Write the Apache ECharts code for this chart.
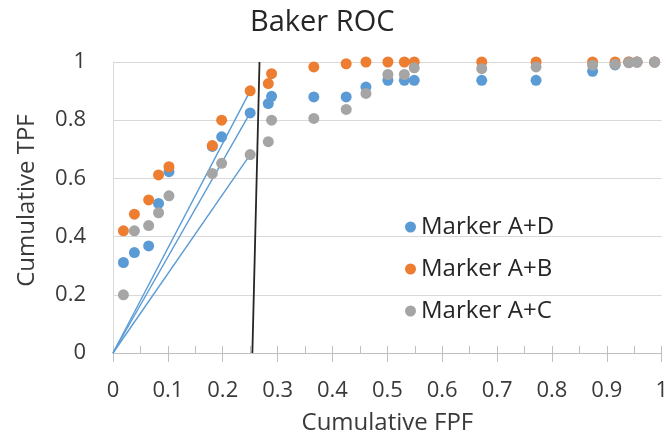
<!DOCTYPE html>
<html>
<head>
<meta charset="utf-8">
<script src="https://cdn.jsdelivr.net/npm/echarts@6/dist/echarts.min.js"></script>
<style>
  html, body { margin: 0; padding: 0; background: #fff; }
  #chart { width: 671px; height: 441px; }
</style>
</head>
<body>
<div id="chart"></div>
<script>
// Cumulative false-positive fraction shared by the three marker panels
const fpf = [0.019, 0.039, 0.065, 0.083, 0.102, 0.181, 0.198, 0.25, 0.283, 0.289,
             0.366, 0.425, 0.461, 0.501, 0.531, 0.549, 0.672, 0.771, 0.874, 0.915,
             0.940, 0.955, 0.987];

// Cumulative true-positive fraction per marker combination
const tpfAD = [0.311, 0.345, 0.368, 0.514, 0.623, 0.71, 0.743, 0.825, 0.857, 0.882,
               0.880, 0.880, 0.914, 0.937, 0.937, 0.937, 0.937, 0.937, 0.968, 0.99,
               1.0, 1.0, 1.0];
const tpfAB = [0.420, 0.477, 0.526, 0.612, 0.640, 0.713, 0.800, 0.901, 0.926, 0.960,
               0.983, 0.994, 1.0, 1.0, 1.0, 1.0, 1.0, 1.0, 1.0, 1.0,
               1.0, 1.0, 1.0];
const tpfAC = [0.200, 0.420, 0.438, 0.482, 0.540, 0.617, 0.652, 0.682, 0.726, 0.800,
               0.806, 0.837, 0.892, 0.957, 0.957, 0.980, 0.977, 0.983, 0.989, 0.992,
               0.997, 1.0, 1.0];

const seriesNames = ['Marker A+D', 'Marker A+B', 'Marker A+C'];
const seriesColors = ['#5B9BD5', '#ED7D31', '#A5A5A5'];

// Index of the operating point joined to the origin by a reference line
const refIndex = 7;

// Cut-off line (FPF, TPF) endpoints
const cutoffLine = [[0.254, 0], [0.267, 1]];

const xTicks = [0, 0.1, 0.2, 0.3, 0.4, 0.5, 0.6, 0.7, 0.8, 0.9, 1];
const yTicks = [0, 0.2, 0.4, 0.6, 0.8, 1];

const FONT = 'Open Sans';
const TXT = '#3a3a3a';

const tpfSets = [tpfAD, tpfAB, tpfAC];
const pairs = arr => fpf.map((x, i) => [x, arr[i]]);

const scatterSeries = tpfSets.map((arr, k) => ({
  name: seriesNames[k],
  type: 'scatter',
  data: pairs(arr),
  symbol: 'circle',
  symbolSize: 11,
  itemStyle: { color: seriesColors[k], opacity: 1 },
  z: 5 + k,
  silent: true
}));

// Lines from the origin to each series' reference point (top to bottom: A+B, A+D, A+C)
const refLines = [tpfAB, tpfAD, tpfAC].map(arr => ({
  type: 'line',
  data: [[0, 0], [fpf[refIndex], arr[refIndex]]],
  showSymbol: false,
  symbol: 'none',
  lineStyle: { color: '#5B9BD5', width: 1.4 },
  z: 3,
  silent: true
}));

const cutoffSeries = {
  type: 'line',
  data: cutoffLine,
  showSymbol: false,
  symbol: 'none',
  lineStyle: { color: '#262626', width: 1.8 },
  z: 4,
  silent: true
};

const chart = echarts.init(document.getElementById('chart'), null, { renderer: 'canvas' });
chart.setOption({
  animation: false,
  backgroundColor: '#fff',
  textStyle: { fontFamily: FONT },
  title: {
    text: 'Baker ROC',
    left: 245,
    top: 3,
    textStyle: { fontFamily: FONT, fontSize: 29, fontWeight: 'normal', color: '#262626' }
  },
  legend: {
    orient: 'vertical',
    left: 400,
    top: 210,
    icon: 'circle',
    itemWidth: 11,
    itemHeight: 11,
    itemGap: 18,
    data: seriesNames,
    textStyle: { fontFamily: FONT, fontSize: 24, color: '#262626' }
  },
  grid: { left: 113, right: 5, top: 62, bottom: 88, containLabel: false },
  xAxis: [
    {
      type: 'value',
      min: xTicks[0],
      max: xTicks[xTicks.length - 1],
      interval: xTicks[1] - xTicks[0],
      name: 'Cumulative FPF',
      nameLocation: 'middle',
      nameGap: 58,
      nameTextStyle: { fontFamily: FONT, fontSize: 24, color: TXT },
      axisLine: { show: true, lineStyle: { color: '#bfbfbf', width: 1 } },
      axisTick: { show: true, inside: false, length: 9, lineStyle: { color: '#bfbfbf' } },
      axisLabel: { margin: 27, fontFamily: FONT, fontSize: 22, color: TXT,
                   formatter: v => String(+v.toFixed(1)) },
      splitLine: { show: false }
    },
    {
      type: 'value',
      position: 'bottom',
      min: 0,
      max: 1,
      interval: 0.05,
      axisLine: { show: false },
      axisTick: { show: true, inside: true, length: 7, lineStyle: { color: '#bfbfbf' } },
      axisLabel: { show: false },
      splitLine: { show: false }
    }
  ],
  yAxis: {
    type: 'value',
    min: yTicks[0],
    max: yTicks[yTicks.length - 1],
    interval: yTicks[1] - yTicks[0],
    name: 'Cumulative TPF',
    nameLocation: 'middle',
    nameGap: 74,
    nameTextStyle: { fontFamily: FONT, fontSize: 24, color: TXT, padding: [0, 0, 0, 14] },
    axisLine: { show: true, lineStyle: { color: '#d9d9d9', width: 1 } },
    axisTick: { show: false },
    axisLabel: { margin: 27, fontFamily: FONT, fontSize: 22, color: TXT,
                 formatter: v => String(+v.toFixed(1)) },
    splitLine: { show: true, lineStyle: { color: '#d9d9d9', width: 1 } }
  },
  series: [...refLines, cutoffSeries, ...scatterSeries]
});
</script>
</body>
</html>
